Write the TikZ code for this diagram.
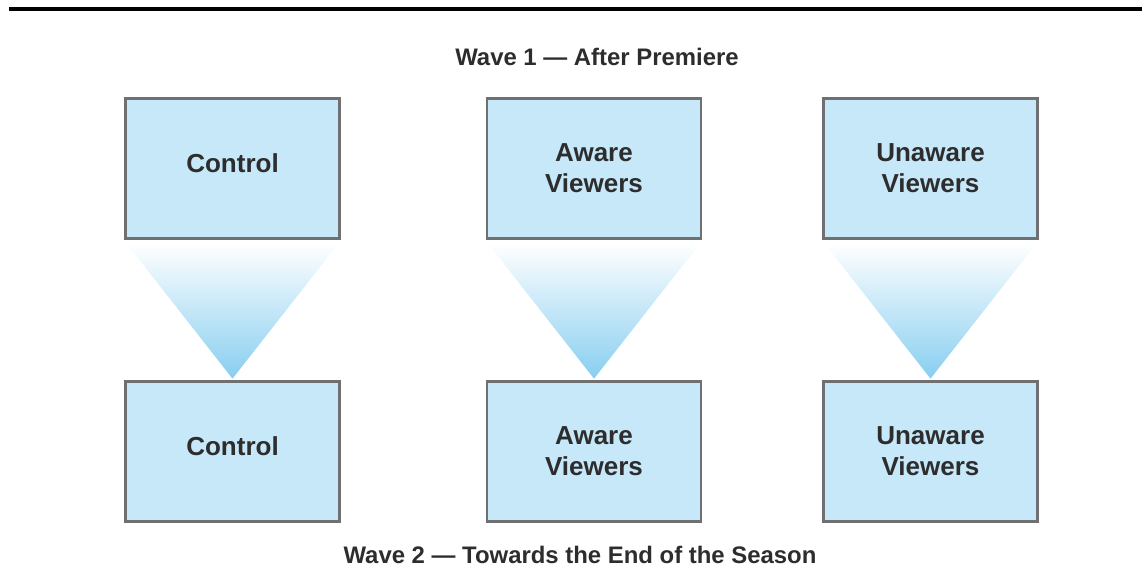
\documentclass[tikz,border=0pt]{standalone}
\usepackage{fontspec}
\setmainfont{Liberation Sans}
\definecolor{boxblue}{RGB}{198,232,249}
\definecolor{boxgray}{RGB}{112,112,114}
\definecolor{textgray}{RGB}{45,45,45}
\definecolor{funnelblue}{RGB}{136,206,240}
\definecolor{funnelmid}{RGB}{155,210,240}
\usetikzlibrary{positioning}

\begin{document}
\begin{tikzpicture}
    [x=0.025cm,y=-0.025cm,every node/.style={text=textgray, font=\bfseries},
     group/.style={draw=boxgray, line width=2pt, fill=boxblue, minimum width=5.35cm, minimum height=3.5cm,
                   align=center, font=\bfseries\fontsize{18.5}{22}\selectfont},
     wave/.style={font=\bfseries\fontsize{17}{19}\selectfont}]
  \useasboundingbox (0,0) rectangle (1142,578);
  \draw[line width=2.2pt, black] (9,9) -- (1142,9);

  \node[wave] (w1) at (597,57) {Wave 1 — After Premiere};
  \node[wave] (w2) at (580,555) {Wave 2 — Towards the End of the Season};

  % first wave
  \node[group] (c1) at (232.5,168.5) {\raisebox{0.25cm}{Control}};
  \node[group] (a1) at (594,168.5) {Aware\\Viewers};
  \node[group] (u1) at (930.5,168.5) {Unaware\\Viewers};
  % second wave
  \node[group] (c2) at (232.5,451.5) {\raisebox{0.25cm}{Control}};
  \node[group] (a2) at (594,451.5) {Aware\\Viewers};
  \node[group] (u2) at (930.5,451.5) {Unaware\\Viewers};

  \foreach \from/\to in {c1/c2, a1/a2, u1/u2}
    \shade[top color=white, middle color=funnelmid, bottom color=funnelblue]
      ([shift={(2,3)}]\from.south west) -- ([shift={(-2,3)}]\from.south east)
      -- ([yshift=1pt]\to.north) -- cycle;
\end{tikzpicture}
\end{document}
